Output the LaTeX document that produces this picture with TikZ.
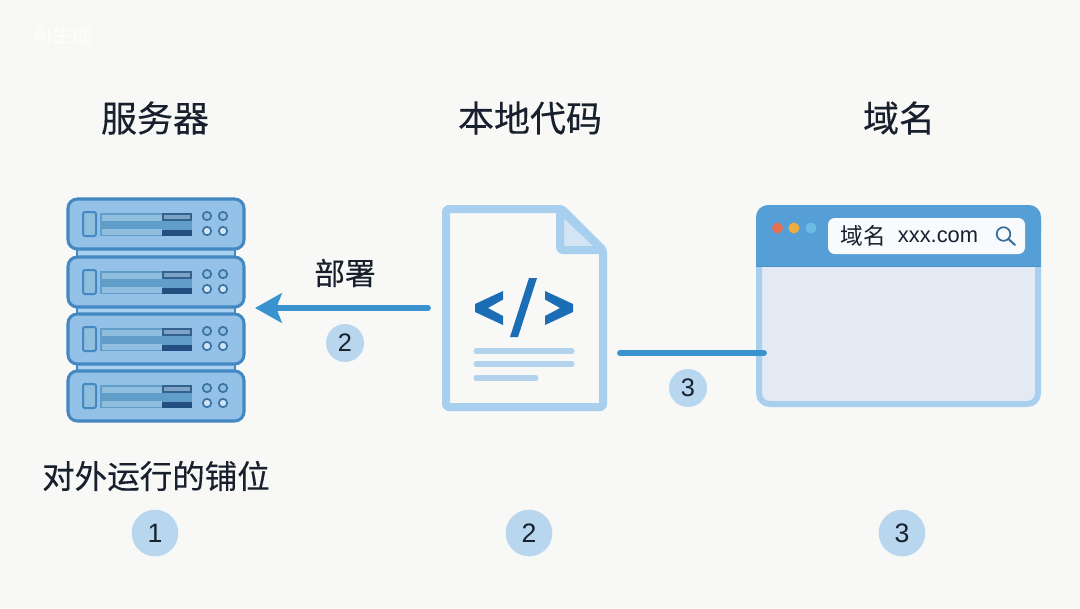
\documentclass[tikz,border=0pt]{standalone}
\usepackage{fontspec}
\setmainfont[FakeBold=0.25]{Noto Sans CJK SC}
\newfontfamily\plaincjk{Noto Sans CJK SC}
\newfontfamily\latinfont{Liberation Sans}
\usetikzlibrary{arrows.meta}
\definecolor{bgc}{HTML}{F8F8F7}
\definecolor{inkc}{HTML}{17202C}
\definecolor{srvfill}{HTML}{93C1E8}
\definecolor{srvline}{HTML}{4488C2}
\definecolor{srvlink}{HTML}{A9D0F0}
\definecolor{barlight}{HTML}{8FBEDF}
\definecolor{barmid}{HTML}{609DC9}
\definecolor{bardark}{HTML}{33628F}
\definecolor{barnavy}{HTML}{234F80}
\definecolor{barchip}{HTML}{7FA3C6}
\definecolor{docline}{HTML}{A8D0EE}
\definecolor{docfold}{HTML}{D3E4F4}
\definecolor{codec}{HTML}{1B6DB6}
\definecolor{textline}{HTML}{B3D2EC}
\definecolor{arrowc}{HTML}{3A93CF}
\definecolor{badgec}{HTML}{B9D6EF}
\definecolor{titlec}{HTML}{559FD6}
\definecolor{bodyc}{HTML}{E4EAF4}
\definecolor{dotred}{HTML}{E86F51}
\definecolor{dotamber}{HTML}{EDAE3F}
\definecolor{dotblue}{HTML}{6BBCE3}
\tikzset{
 x=0.75pt,y=-0.75pt,
 title/.style={text=inkc,font=\fontsize{27}{27}\selectfont,inner sep=0pt},
 sublabel/.style={text=inkc,font=\fontsize{24.4}{25}\selectfont,inner sep=0pt},
 flowlabel/.style={text=inkc,font=\fontsize{23}{24}\selectfont,inner sep=0pt},
 badge/.style={circle,fill=badgec,minimum size=35pt,inner sep=0pt,text=inkc,font=\latinfont\fontsize{20}{20}\selectfont},
 smallbadge/.style={circle,fill=badgec,minimum size=28.5pt,inner sep=0pt,text=inkc,font=\latinfont\fontsize{19}{19}\selectfont},
 link/.style={draw=arrowc,line width=4.4pt,line cap=round},
 textrule/.style={draw=textline,line width=3.8pt,line cap=round},
 led/.style={draw=srvline!85!black,line width=1.3pt,fill=#1},
 serverunit/.pic={
  \draw[srvline,line width=2.3pt,fill=srvfill,rounded corners=7pt] (68,0) rectangle (244,50);
  \draw[srvline,line width=1.5pt,fill=barlight,rounded corners=1.5pt] (83,13) rectangle (96,37);
  \fill[barmid] (100,14) rectangle (192,37);
  \fill[barlight] (102,16) rectangle (162,22);
  \fill[barlight] (102,30) rectangle (162,36);
  \draw[bardark,line width=1.5pt,fill=barchip] (163,14.5) rectangle (191,21);
  \fill[barnavy] (162,31) rectangle (192,37);
  \draw[led=barlight] (207,17) circle (4.2);
  \draw[led=barlight] (223,17) circle (4.2);
  \draw[led=docfold] (207,32) circle (4.2);
  \draw[led=docfold] (223,32) circle (4.2);
 }
}
\begin{document}
\begin{tikzpicture}
\path[use as bounding box,fill=bgc] (0,0) rectangle (1080,608);

% faint watermark
\node[text=white,font=\fontsize{15}{15}\selectfont,inner sep=0pt,opacity=0.75] (mark) at (63,35) {AI生成};

% titles
\node[title] (t1) at (155,118) {服务器};
\node[title] (t2) at (530,118) {本地代码};
\node[title] (t3) at (899,118) {域名};

% server
\foreach \y in {249,306,363}{
  \fill[srvlink] (77,\y) rectangle (235,\y+9);
  \draw[srvline,line width=1pt] (77,\y) -- (77,\y+9) (235,\y) -- (235,\y+9);
}
\foreach \y/\n in {199/a,257/b,314/c,371/d}{
  \pic (unit\n) at (0,\y) {serverunit};
}
\coordinate (srv) at (255,308);

% document
\draw[docline,line width=6pt,fill=bgc,line join=round,rounded corners=2pt] (446,209) -- (562,209) -- (603,250) -- (603,407) -- (446,407) -- cycle;
\draw[docline,line width=6pt,fill=docfold,line join=round,rounded corners=2pt] (560,209) -- (560,250) -- (603,250) -- cycle;
\fill[codec] (503,291) -- (503,299.5) -- (488,308) -- (503,316) -- (503,325) -- (475,312) -- (475,304) -- cycle;
\fill[codec] (545,291) -- (545,299.5) -- (560,308) -- (545,316) -- (545,325) -- (573,312) -- (573,304) -- cycle;
\fill[codec] (529,278) -- (537,278) -- (518,337) -- (510,337) -- cycle;
\draw[textrule] (476,351) -- (572,351);
\draw[textrule] (476,364) -- (572,364);
\draw[textrule] (476,378) -- (536,378);
\coordinate (docl) at (428,308);
\coordinate (docr) at (620,353);

% browser
\draw[docline,line width=4.5pt,fill=bodyc,rounded corners=8pt] (759,208) rectangle (1038,404);
\fill[titlec,rounded corners=9pt] (756,205) rectangle (1041,245);
\fill[titlec] (756,225) rectangle (1041,267);
\fill[titlec!92!black] (756,265.5) rectangle (1041,267);
\fill[dotred] (777.5,228) circle (5.5);
\fill[dotamber] (794,228) circle (5.5);
\fill[dotblue] (811,228) circle (5.5);
\fill[white!96!titlec,rounded corners=5pt] (828,218) rectangle (1025,254);
\node[text=inkc,font=\plaincjk\fontsize{17}{18}\selectfont,inner sep=0pt] (domain) at (863,236) {域名};
\node[text=inkc,font=\latinfont\fontsize{16.4}{17}\selectfont,inner sep=0pt] (url) at (938,237) {xxx.com};
\draw[srvline!80!black,line width=1.3pt] (1003.5,234) circle (6.8);
\draw[srvline!80!black,line width=1.5pt,line cap=round] (1009,239.5) -- (1015,245);
\coordinate (web) at (764,353);

% connectors
\draw[link,-{Stealth[length=20pt,width=22pt,inset=4pt]}] (docl) -- (srv);
\draw[link] (docr) -- (web);

% labels
\node[flowlabel] (deploy) at (345,273) {部署};
\node[smallbadge] (b4) at (345,343) {2};
\node[smallbadge] (b5) at (688,388) {3};
\node[sublabel] (sub) at (156,476) {对外运行的铺位};
\node[badge] (b1) at (155,533) {1};
\node[badge] (b2) at (529,533) {2};
\node[badge] (b3) at (902,533) {3};
\end{tikzpicture}
\end{document}
